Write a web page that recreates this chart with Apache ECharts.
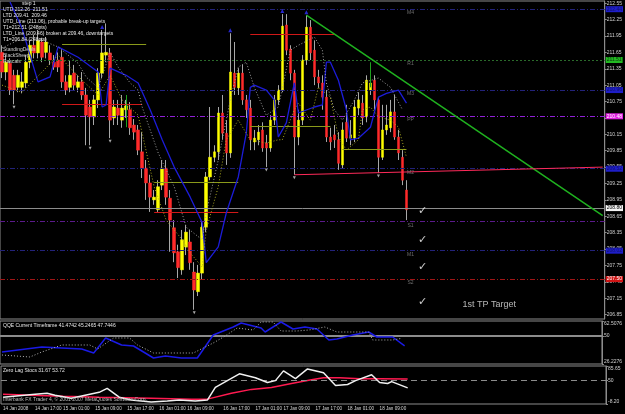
<!DOCTYPE html>
<html>
<head>
<meta charset="utf-8">
<script src="https://cdn.jsdelivr.net/npm/echarts@6.0.0/dist/echarts.min.js"></script>
<style>
html, body { margin: 0; padding: 0; background: #000; }
#main { width: 625px; height: 414px; }
</style>
</head>
<body>
<div id="main"></div>
<script>
// H1 bars, bar 0 = 14 Jan 09:00
var opens = [211.65,211.29,211.45,211.23,211.01,211.01,211.09,211.47,211.78,211.64,
  211.84,211.65,211.64,211.47,211.51,211.56,211.11,211.01,211.27,211.01,
  211.11,210.87,210.65,210.47,210.78,211.27,211.60,211.64,210.45,210.63,
  210.41,210.60,210.60,210.32,210.23,209.83,209.53,209.26,208.95,208.77,
  209.22,209.53,208.98,208.44,208.00,207.67,208.09,208.18,207.63,207.27,
  207.61,208.45,209.37,209.73,209.83,210.54,210.17,209.81,211.27,211.00,
  211.27,210.78,210.63,210.01,210.05,210.23,209.99,209.90,210.41,210.78,
  210.96,212.15,211.71,211.27,210.10,210.41,211.51,212.11,211.69,211.20,
  211.09,210.83,210.10,210.14,210.05,209.59,210.37,210.08,210.08,210.63,
  210.72,210.47,210.96,211.14,210.78,209.73,210.23,210.27,210.56,210.10,
  209.73,209.13];
var closes = [211.29,211.47,210.96,210.96,211.23,211.11,211.47,211.78,211.64,211.87,
  211.56,211.84,211.51,211.38,211.38,211.11,210.96,211.23,211.05,211.11,
  210.87,210.50,210.47,210.78,211.27,211.64,211.65,210.41,210.65,210.50,
  210.63,210.67,210.27,210.19,209.86,209.53,209.26,209.00,209.00,209.19,
  209.53,209.00,208.58,207.98,207.71,208.22,208.36,207.80,207.30,207.61,
  208.45,209.37,209.73,209.83,210.54,210.17,209.81,211.29,211.01,211.27,
  210.78,210.60,210.05,210.08,210.19,209.90,209.90,210.41,210.78,210.96,
  212.13,211.69,211.27,210.10,210.41,211.51,212.11,211.64,211.20,211.09,
  210.83,210.10,210.01,210.05,209.62,210.23,210.08,210.14,210.65,210.78,
  210.45,211.14,211.09,210.78,209.73,210.23,210.32,210.56,210.10,209.81,
  209.31,208.77];
var lows = [211.18,211.14,210.87,210.70,210.92,210.90,211.00,211.36,211.54,211.54,
  211.47,211.54,211.42,211.33,211.29,211.00,210.87,210.92,210.96,210.92,
  210.78,209.95,209.95,210.32,210.63,211.18,211.47,210.08,210.32,210.32,
  210.27,210.45,210.14,210.05,209.77,209.35,208.95,208.73,208.86,208.73,
  209.13,208.86,208.00,207.81,207.52,207.58,207.94,207.67,206.94,207.19,
  207.49,208.36,209.31,209.64,209.68,210.05,209.59,209.72,210.87,210.87,
  210.69,210.45,209.86,209.86,209.95,209.83,209.55,209.83,210.32,210.69,
  210.92,211.60,211.14,209.41,209.95,210.32,211.42,211.51,211.05,211.00,
  210.60,210.01,209.86,209.90,209.50,209.53,210.01,209.95,210.01,210.50,
  210.32,210.37,210.87,210.60,209.44,209.68,210.14,210.19,210.05,209.68,
  209.22,208.58];
var highs = [211.78,211.60,211.54,211.33,211.33,211.29,211.60,211.87,211.97,212.06,
  211.91,211.93,211.78,211.60,211.65,211.69,211.23,211.51,211.42,211.23,
  211.29,211.00,210.78,210.87,211.36,212.06,212.18,211.73,210.78,210.78,
  210.87,210.78,210.74,210.43,210.32,210.19,209.68,209.41,209.13,209.31,
  209.68,209.68,209.13,208.58,208.13,208.40,208.49,208.40,207.81,207.76,
  208.55,209.46,210.65,209.95,210.65,210.87,210.41,212.00,211.84,211.36,
  211.42,210.87,210.78,210.23,210.32,210.37,210.14,210.50,210.87,211.05,
  212.35,212.35,211.78,211.33,210.60,211.60,212.33,212.24,211.87,211.33,
  211.23,210.96,210.27,210.32,210.19,210.37,210.69,210.41,210.78,210.92,
  210.87,211.23,211.14,211.23,210.83,210.69,210.69,210.78,210.87,210.23,
  209.86,209.31];

// moving lines on the price panel, [bar, price]
var maBlue = [[2,212.57],[5,212.09],[7,211.60],[9,211.11],[12,211.20],[14,211.75],[19,211.56],[24,211.29],[25,210.65],[26,210.69],[27,211.36],[31,211.23],[34,211.09],[37,210.60],[40,210.05],[43,209.55],[47,209.00],[50,208.53],[51,207.80],[54,208.09],[56,208.71],[59,209.37],[61,210.17],[62,211.01],[63,211.05],[66,210.96],[68,210.78],[69,210.10],[71,210.36],[73,211.09],[74,210.54],[78,210.65],[80,210.69],[81,211.47],[82,211.47],[84,211.14],[86,210.60],[87,210.05],[89,210.08],[92,210.28],[94,210.83],[96,210.90],[99,210.96],[101,210.72]];
var maGray = [[0,211.73],[4,211.87],[10,211.87],[14,211.75],[19,211.45],[21,211.20],[24,211.00],[27,211.65],[29,211.38],[32,211.09],[34,210.96],[35,210.65],[39,209.81],[43,209.19],[46,208.45],[50,208.22],[51,208.71],[54,209.68],[57,210.78],[59,211.38],[61,211.47],[63,211.01],[66,210.50],[69,210.65],[72,211.69],[74,211.78],[78,211.93],[80,211.69],[81,211.09],[83,210.60],[85,210.41],[88,210.78],[90,211.09],[94,211.18],[97,211.01],[100,210.60]];
var maYellow = [[0,211.05],[5,210.92],[10,211.29],[14,211.60],[20,211.14],[24,210.87],[27,211.23],[30,210.78],[34,210.50],[35,210.17],[38,209.19],[41,208.58],[45,208.22],[47,207.98],[50,207.72],[51,208.40],[54,209.19],[56,210.05],[59,210.41],[62,210.05],[66,209.99],[69,210.05],[70,210.05],[73,210.60],[74,210.72],[77,210.41],[79,211.01],[82,210.83],[84,210.10],[86,209.86],[89,210.05],[90,210.60],[92,210.65],[94,210.47],[97,210.41],[99,210.28],[101,209.73]];

// pivot levels (right side)
var pivotNames = ['M4','R1','M3','PP','M2','S1','M1','S2'];
var pivotLevels = [212.44, 211.51, 210.96, 210.48, 209.52, 208.55, 208.02, 207.50];
var lastPrice = 208.80;
var trendEndPrice = 208.66;

// session segments
var segStart = [15, 38, 62, 85];
var segEnd = [36, 59, 82, 101];
var segOlive = [211.80, 209.28, 210.30, 209.88];
var segRedStart = [15, 38, 62];
var segRedEnd = [35, 59, 83];
var segRed = [210.70, 208.73, 211.98];

var fractalUp = [25, 57, 70, 76];
var fractalDown = [3, 22, 27, 48, 66, 73, 94];

var checkPrices = [208.75, 208.22, 207.72, 207.08];
var checkBar = 105;

// indicator windows
var qqeMain = [[0,36.36],[10,40.57],[15,39.73],[20,38.89],[23,35.51],[26,48.17],[30,42.26],[33,41.42],[38,31.29],[41,32.98],[45,31.29],[49,31.29],[53,50.70],[58,57.45],[60,60.82],[65,56.60],[66,53.23],[68,57.45],[70,61.67],[73,55.76],[76,57.45],[79,55.76],[82,46.48],[84,47.32],[88,50.70],[92,53.23],[94,49.01],[98,49.01],[101,41.47]];
var qqeTrail = [[0,33.82],[7,32.14],[10,36.36],[15,42.26],[22,42.26],[24,38.89],[28,48.17],[32,48.17],[34,42.26],[38,35.51],[48,35.51],[51,40.57],[53,43.95],[56,49.86],[59,56.60],[63,54.92],[65,61.67],[68,61.67],[70,54.07],[74,54.07],[77,54.92],[81,57.45],[84,53.23],[92,53.23],[93,46.48],[98,46.48],[100,47.74]];
var stochMain = [[0,8.65],[8,15.87],[11,18.27],[13,13.46],[17,6.24],[24,20.68],[26,30.30],[29,8.65],[32,1.43],[37,-3.39],[41,-0.98],[44,1.43],[48,-0.98],[51,1.43],[53,32.71],[56,49.55],[59,66.40],[63,56.77],[66,44.74],[68,49.55],[70,73.62],[73,54.37],[76,78.43],[80,68.81],[83,37.52],[86,39.93],[88,49.55],[92,63.99],[94,44.74],[96,42.34],[97,47.15],[101,31.67]];
var stochSignal = [[0,15.87],[7,13.46],[15,11.05],[24,8.65],[37,6.24],[47,3.83],[51,3.83],[57,18.27],[62,27.90],[67,32.71],[72,42.34],[77,51.96],[80,56.77],[84,56.77],[89,54.37],[94,54.37],[101,53.72]];

// axis labels
var priceTicks = [212.55,212.25,211.95,211.65,211.35,211.05,210.75,210.45,210.15,209.85,209.55,209.25,208.95,208.65,208.35,208.05,207.75,207.45,207.15,206.85];
var qqeTicks = [26.2276, 50, 62.5076];
var stochTicks = [-8.20, 50, 85.65];
var timeLabels = ['14 Jan 2008','14 Jan 17:00','15 Jan 01:00','15 Jan 09:00','15 Jan 17:00','16 Jan 01:00','16 Jan 09:00','16 Jan 17:00','17 Jan 01:00','17 Jan 09:00','17 Jan 17:00','18 Jan 01:00','18 Jan 09:00'];
var timeLabelBars = [0, 8, 15, 23, 31, 39, 46, 55, 63, 70, 78, 86, 94];

var infoLines = ['UTD 212.26  211.51', 'LTD 209.41  209.46', 'UTD_Line (211.06), probable break-up targets', 'T1=212.51 (248pts)', 'LTD_Line (209.46) broken at 209.46, downtargets', 'T1=206.84 (248pts)'];
var infoLines2 = ['StandingDeals', 'BlackSheep', 'Rascals'];

var nCats = 151;
var cats = [];
for (var i = 0; i < nCats; i++) cats.push('');
timeLabelBars.forEach(function (b, k) { cats[b] = timeLabels[k]; });

var fullBars = [], bodyBars = [];
for (var i = 0; i < opens.length; i++) {
  fullBars.push([opens[i], closes[i], lows[i], highs[i]]);
  bodyBars.push([opens[i], closes[i], Math.min(opens[i], closes[i]), Math.max(opens[i], closes[i])]);
}

var pivotLine = [
  { color: '#22227a', type: [5, 2, 1, 2] },
  { color: '#2a6a2a', type: [2, 2] },
  { color: '#22227a', type: [5, 2, 1, 2] },
  { color: '#9020d8', type: [5, 2, 1, 2] },
  { color: '#22227a', type: [5, 2, 1, 2] },
  { color: '#5c1a8c', type: [5, 2, 1, 2] },
  { color: '#22227a', type: [5, 2, 1, 2] },
  { color: '#a01616', type: [5, 2, 1, 2] }
];
var pivotBox = [
  { bg: '#1e1ec8', fg: '#10106a' },
  { bg: '#22b822', fg: '#0a300a' },
  { bg: '#1e1ec8', fg: '#10106a' },
  { bg: '#e020e0', fg: '#ffffff' },
  { bg: '#1e1ec8', fg: '#10106a' },
  null,
  { bg: '#1e1ec8', fg: '#10106a' },
  { bg: '#d01414', fg: '#ffffff' }
];

function boxLabel(txt, bg, fg) {
  return { show: true, position: 'end', distance: 1, formatter: txt, backgroundColor: bg, color: fg,
           fontSize: 5, padding: [1, 1, 0, 1], lineHeight: 5 };
}

var levelLines = [];
pivotLevels.forEach(function (v, k) {
  var b = pivotBox[k];
  levelLines.push({
    yAxis: v,
    lineStyle: { color: pivotLine[k].color, type: pivotLine[k].type, width: 1 },
    label: b ? boxLabel(v.toFixed(2), b.bg, b.fg) : { show: false }
  });
});
levelLines.push({ yAxis: lastPrice, lineStyle: { color: '#8c8c8c', type: 'solid', width: 1 },
  label: boxLabel(lastPrice.toFixed(2), '#f4f4f4', '#000000') });
levelLines.push({ yAxis: trendEndPrice, lineStyle: { opacity: 0 },
  label: boxLabel(trendEndPrice.toFixed(2), '#e81818', '#ffffff') });

var noLabel = { show: false };
function seg(x1, y1, x2, y2, color, width) {
  return [{ coord: [x1, y1], lineStyle: { color: color, width: width, type: 'solid' }, label: noLabel },
          { coord: [x2, y2] }];
}
segStart.forEach(function (s, k) { levelLines.push(seg(s, segOlive[k], segEnd[k], segOlive[k], '#8a9a1a', 1)); });
segRedStart.forEach(function (s, k) { levelLines.push(seg(s, segRed[k], segRedEnd[k], segRed[k], '#d01818', 1)); });
levelLines.push(seg(76, highs[76], nCats - 1, trendEndPrice, '#1fb21f', 1.5));
levelLines.push(seg(73, lows[73], nCats - 1, 209.55, '#ff2a5a', 1));
levelLines.push(seg(31, 210.87, 31, 210.28, '#1fa01f', 1));
levelLines.push(seg(92, 211.47, 92, 211.01, '#1fa01f', 1));

var txtFont = '"Liberation Sans", Arial, sans-serif';

var option = {
  backgroundColor: '#000000',
  animation: false,
  textStyle: { fontFamily: txtFont },
  grid: [
    { left: 0, top: 1, width: 606, height: 318, show: true, borderColor: '#8c8c8c', borderWidth: 1, backgroundColor: 'transparent' },
    { left: 0, top: 321, width: 606, height: 43, show: true, borderColor: '#8c8c8c', borderWidth: 1, backgroundColor: 'transparent' },
    { left: 0, top: 366, width: 606, height: 38, show: true, borderColor: '#8c8c8c', borderWidth: 1, backgroundColor: 'transparent' }
  ],
  xAxis: [0, 1, 2].map(function (g) {
    return {
      type: 'category', gridIndex: g, data: cats, boundaryGap: true,
      axisLine: { show: false }, axisTick: { show: false }, splitLine: { show: false },
      axisLabel: g < 2 ? { show: false } : {
        show: true, color: '#d8d8d8', fontSize: 4.6, align: 'left', margin: 2,
        interval: function (idx, val) { return val !== ''; }
      }
    };
  }),
  yAxis: [
    { gridIndex: 0, position: 'right', min: 206.77, max: 212.59, splitLine: { show: false },
      axisLine: { show: true, lineStyle: { color: '#8c8c8c' } },
      axisTick: { show: true, length: 2, customValues: priceTicks, lineStyle: { color: '#8c8c8c' } },
      axisLabel: { customValues: priceTicks, color: '#d0d0d0', fontSize: 5, margin: 2,
                   formatter: function (v) { return v.toFixed(2); } } },
    { gridIndex: 1, position: 'right', min: qqeTicks[0], max: qqeTicks[2], splitLine: { show: false },
      axisLine: { show: true, lineStyle: { color: '#8c8c8c' } },
      axisTick: { show: true, length: 2, customValues: qqeTicks, lineStyle: { color: '#8c8c8c' } },
      axisLabel: { customValues: qqeTicks, color: '#d0d0d0', fontSize: 5, margin: 2,
                   verticalAlignMaxLabel: 'top', verticalAlignMinLabel: 'bottom',
                   formatter: function (v) { return String(v); } } },
    { gridIndex: 2, position: 'right', min: stochTicks[0], max: stochTicks[2], splitLine: { show: false },
      axisLine: { show: true, lineStyle: { color: '#8c8c8c' } },
      axisTick: { show: true, length: 2, customValues: stochTicks, lineStyle: { color: '#8c8c8c' } },
      axisLabel: { customValues: stochTicks, color: '#d0d0d0', fontSize: 5, margin: 2,
                   verticalAlignMaxLabel: 'top', verticalAlignMinLabel: 'bottom',
                   formatter: function (v) { return v === 50 ? '50' : v.toFixed(2); } } }
  ],
  graphic: [
    { type: 'text', left: 22, top: 1, z: 100, style: { text: 'step 1', fill: '#e8e8e8', font: '5px ' + txtFont } },
    { type: 'text', left: 3, top: 7, z: 100, style: { text: infoLines.join('\n'), fill: '#e8e8e8', font: '5px ' + txtFont, lineHeight: 6 } },
    { type: 'text', left: 3, top: 47, z: 100, style: { text: infoLines2.join('\n'), fill: '#cfcfcf', font: '5px ' + txtFont, lineHeight: 6 } },
    { type: 'text', left: 3, top: 323, z: 100, style: { text: 'QQE Current Timeframe 41.4742 45.2465 47.7446', fill: '#e8e8e8', font: '5px ' + txtFont } },
    { type: 'text', left: 3, top: 368, z: 100, style: { text: 'Zero Lag Stocs 31.67 53.72', fill: '#e8e8e8', font: '5px ' + txtFont } },
    { type: 'text', left: 3, top: 397, z: 100, style: { text: 'Interbank FX Trader 4, \u00a9 2001-2007 MetaQuotes Software Corp.', fill: '#bdbdbd', font: '5px ' + txtFont } }
  ],
  series: [
    { type: 'candlestick', xAxisIndex: 0, yAxisIndex: 0, data: fullBars, barWidth: 1, z: 3,
      itemStyle: { color: '#a8a8a8', color0: '#a8a8a8', borderColor: '#a8a8a8', borderColor0: '#a8a8a8', borderWidth: 1 } },
    { type: 'candlestick', xAxisIndex: 0, yAxisIndex: 0, data: bodyBars, barWidth: 3, z: 4,
      itemStyle: { color: '#ffff00', color0: '#ff2a2a', borderColor: '#ffff00', borderColor0: '#ff2a2a', borderWidth: 0.5 },
      markLine: { silent: true, symbol: ['none', 'none'], animation: false, data: levelLines } },
    { type: 'line', xAxisIndex: 0, yAxisIndex: 0, data: maBlue, showSymbol: false, z: 5,
      lineStyle: { color: '#1c1cd8', width: 1.3 } },
    { type: 'line', xAxisIndex: 0, yAxisIndex: 0, data: maGray, showSymbol: false, z: 5,
      lineStyle: { color: '#a0a0a0', width: 1, type: [1, 2] } },
    { type: 'line', xAxisIndex: 0, yAxisIndex: 0, data: maYellow, showSymbol: false, z: 5,
      lineStyle: { color: '#a8a820', width: 1, type: [1, 2] } },
    { type: 'scatter', xAxisIndex: 0, yAxisIndex: 0, z: 6, symbol: 'triangle', symbolSize: 4, symbolOffset: [0, -3],
      itemStyle: { color: '#3030ff' },
      data: fractalUp.map(function (b) { return [b, highs[b]]; }) },
    { type: 'scatter', xAxisIndex: 0, yAxisIndex: 0, z: 6, symbol: 'triangle', symbolRotate: 180, symbolSize: 3, symbolOffset: [0, 3],
      itemStyle: { color: '#d0d0d0' },
      data: fractalDown.map(function (b) { return [b, lows[b]]; }) },
    { type: 'scatter', xAxisIndex: 0, yAxisIndex: 0, z: 6, symbolSize: 0,
      label: { show: true, position: 'bottom', distance: 1, color: '#8a8a8a', fontSize: 5,
               formatter: function (p) { return pivotNames[p.dataIndex]; } },
      data: pivotLevels.map(function (v) { return [102, v]; }) },
    { type: 'scatter', xAxisIndex: 0, yAxisIndex: 0, z: 6, symbolSize: 0,
      label: { show: true, position: 'inside', color: '#ffffff', fontSize: 11, fontFamily: 'DejaVu Sans', formatter: '\u2713' },
      data: checkPrices.map(function (v) { return [checkBar, v]; }) },
    { type: 'scatter', xAxisIndex: 0, yAxisIndex: 0, z: 6, symbolSize: 0,
      label: { show: true, position: 'right', distance: 0, color: '#e0e0e0', fontSize: 9, formatter: '1st TP Target' },
      data: [[115, 207.03]] },
    { type: 'line', xAxisIndex: 1, yAxisIndex: 1, data: qqeMain, showSymbol: false, z: 5,
      lineStyle: { color: '#1a1ae6', width: 1.5 },
      markLine: { silent: true, symbol: ['none', 'none'], label: { show: false },
                  lineStyle: { color: '#8c8c8c', type: 'solid', width: 2 }, data: [{ yAxis: 50 }] } },
    { type: 'line', xAxisIndex: 1, yAxisIndex: 1, data: qqeTrail, showSymbol: false, z: 5,
      lineStyle: { color: '#b0b0b0', width: 1, type: [1, 2] } },
    { type: 'line', xAxisIndex: 2, yAxisIndex: 2, data: stochMain, showSymbol: false, z: 5,
      lineStyle: { color: '#f0f0f0', width: 1.5 },
      markLine: { silent: true, symbol: ['none', 'none'], label: { show: false },
                  lineStyle: { color: '#8c8c8c', type: [6, 4], width: 1 }, data: [{ yAxis: 50 }] } },
    { type: 'line', xAxisIndex: 2, yAxisIndex: 2, data: stochSignal, showSymbol: false, z: 4,
      lineStyle: { color: '#ff1a50', width: 1.5 } }
  ]
};

var myChart = echarts.init(document.getElementById('main'));
myChart.setOption(option);
</script>
</body>
</html>
